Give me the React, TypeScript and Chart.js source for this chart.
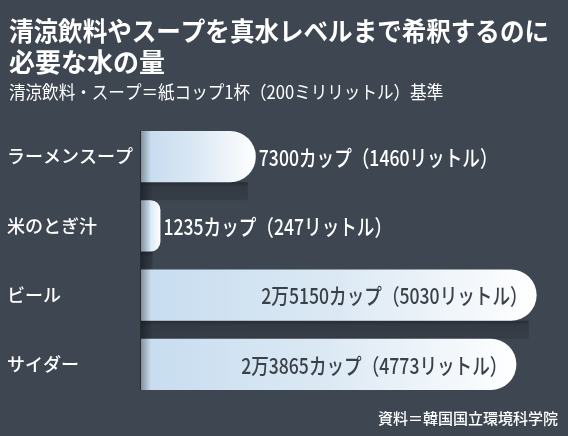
import { useEffect, useRef } from "react";
import { Chart, registerables } from "chart.js";
Chart.register(...registerables);

const titleLines = ["清涼飲料やスープを真水レベルまで希釈するのに", "必要な水の量"];
const subtitle = "清涼飲料・スープ＝紙コップ1杯（200ミリリットル）基準";
const source = "資料＝韓国国立環境科学院";

const categories = ["ラーメンスープ", "米のとぎ汁", "ビール", "サイダー"];
const cups = [7300, 1235, 25150, 23865];
const liters = [1460, 247, 5030, 4773];

const BG = "#3e4651";
const FONT = '"Noto Sans CJK JP", "Noto Sans", sans-serif';

const formatCups = (v: number) =>
    v >= 10000 ? `${Math.floor(v / 10000)}万${v % 10000}` : `${v}`;

// draws text narrowed horizontally, the original uses a condensed face
function squeezed(ctx: CanvasRenderingContext2D, text: string, x: number, y: number, align: CanvasTextAlign, sx: number) {
    ctx.save();
    ctx.translate(x, y);
    ctx.scale(sx, 1);
    ctx.textAlign = align;
    ctx.fillText(text, 0, 0);
    ctx.restore();
}

const decorPlugin = {
    id: "decor",
    beforeDraw: (chart: any) => {
        const { ctx, width, height } = chart;
        ctx.save();
        ctx.fillStyle = BG;
        ctx.fillRect(0, 0, width, height);
        ctx.fillStyle = "#ffffff";
        ctx.textBaseline = "middle";
        ctx.font = `bold 26px ${FONT}`;
        titleLines.forEach((line, i) => {
            const w = ctx.measureText(line).width;
            squeezed(ctx, line, 9, 31 + i * 31, "left", Math.min(1, (width - 28) / w));
        });
        ctx.font = `18px ${FONT}`;
        squeezed(ctx, subtitle, 9, 92, "left", 0.92);
        ctx.font = `500 15px ${FONT}`;
        squeezed(ctx, source, width - 10, 418, "right", 1);
        ctx.restore();
    },
    beforeDatasetsDraw: (chart: any) => {
        const { ctx, chartArea } = chart;
        const bars = chart.getDatasetMeta(0).data;
        if (!bars.length) return;
        ctx.save();
        // darker band under each bar (down to the next one)
        for (let i = 0; i < bars.length - 1; i++) {
            const a = bars[i].getProps(["x", "y", "height"], true);
            const b = bars[i + 1].getProps(["y", "height"], true);
            const y0 = a.y + a.height / 2;
            const y1 = b.y - b.height / 2;
            const g = ctx.createLinearGradient(0, y0, 0, y1);
            g.addColorStop(0, "rgba(10,12,18,0.45)");
            g.addColorStop(0.25, "rgba(10,12,18,0.2)");
            g.addColorStop(1, "rgba(10,12,18,0.16)");
            ctx.fillStyle = g;
            ctx.fillRect(chartArea.left, y0, a.x - chartArea.left - 8, y1 - y0);
        }
        // shade along the base line
        const first = bars[0].getProps(["y", "height"], true);
        const last = bars[bars.length - 1].getProps(["y", "height"], true);
        const top = first.y - first.height / 2;
        const bottom = last.y + last.height / 2;
        const sg = ctx.createLinearGradient(chartArea.left - 1, 0, chartArea.left + 12, 0);
        sg.addColorStop(0, "rgba(15,18,24,0.55)");
        sg.addColorStop(1, "rgba(15,18,24,0)");
        ctx.fillStyle = sg;
        ctx.fillRect(chartArea.left - 1, top, 13, bottom - top);
        ctx.restore();
    },
    afterDatasetsDraw: (chart: any) => {
        const { ctx } = chart;
        const bars = chart.getDatasetMeta(0).data;
        ctx.save();
        ctx.font = `500 22px ${FONT}`;
        ctx.textBaseline = "middle";
        const sx = 0.8;
        bars.forEach((bar: any, i: number) => {
            const { x, y, base } = bar.getProps(["x", "y", "base"], true);
            const text = `${formatCups(cups[i])}カップ（${liters[i]}リットル）`;
            const w = ctx.measureText(text).width * sx;
            if (w + 20 < x - base) {
                ctx.fillStyle = "#3b4149";
                squeezed(ctx, text, x - 9, y + 1, "right", sx);
            } else {
                ctx.fillStyle = "#ffffff";
                squeezed(ctx, text, x + 3, y + 1, "left", sx);
            }
        });
        ctx.restore();
    },
};

const App = () => {
    const chartContainer = useRef<HTMLCanvasElement>(null);

    useEffect(() => {
        if (!chartContainer.current) return;
        const chart = new Chart(chartContainer.current, {
            type: "bar",
            data: {
                labels: categories,
                datasets: [
                    {
                        data: cups,
                        backgroundColor: (c: any) => {
                            const xs = c.chart.scales?.x;
                            if (!xs || c.raw == null) return "#d6e6f3";
                            const x0 = xs.getPixelForValue(0);
                            const x1 = xs.getPixelForValue(c.raw);
                            if (!Number.isFinite(x0) || !Number.isFinite(x1) || x1 <= x0) return "#d6e6f3";
                            const len = x1 - x0;
                            const edge = Math.min(10 / len, 0.45);
                            const g = c.chart.ctx.createLinearGradient(x0, 0, x1, 0);
                            g.addColorStop(0, "#85909c");
                            g.addColorStop(edge, "#c8ddf0");
                            g.addColorStop(Math.max(0.5, edge + 0.05), "#dce9f4");
                            g.addColorStop(1, "#ffffff");
                            return g;
                        },
                        borderRadius: { topLeft: 0, bottomLeft: 0, topRight: 26, bottomRight: 26 },
                        borderSkipped: "start",
                        categoryPercentage: 1,
                        barPercentage: 0.74,
                    },
                ],
            },
            options: {
                indexAxis: "y",
                responsive: true,
                maintainAspectRatio: false,
                animation: false,
                layout: { padding: { top: 122, left: 7, right: 18, bottom: 37 } },
                scales: {
                    x: { display: false, min: 0, max: 26000 },
                    y: {
                        grid: { display: false },
                        border: { display: false },
                        ticks: {
                            color: "#ffffff",
                            font: { family: FONT, size: 18, weight: 500 },
                            crossAlign: "far",
                            padding: 0,
                        },
                        afterFit: (s: any) => {
                            s.width = 134;
                        },
                    },
                },
                plugins: {
                    legend: { display: false },
                    tooltip: { enabled: false },
                },
            },
            plugins: [decorPlugin],
        });

        return () => {
            chart.destroy();
        };
    }, []);

    return (
        <div style={{ position: "fixed", left: 0, top: 0, width: "100vw", height: "100vh", background: BG }}>
            <canvas ref={chartContainer} />
        </div>
    );
};

export default App;
